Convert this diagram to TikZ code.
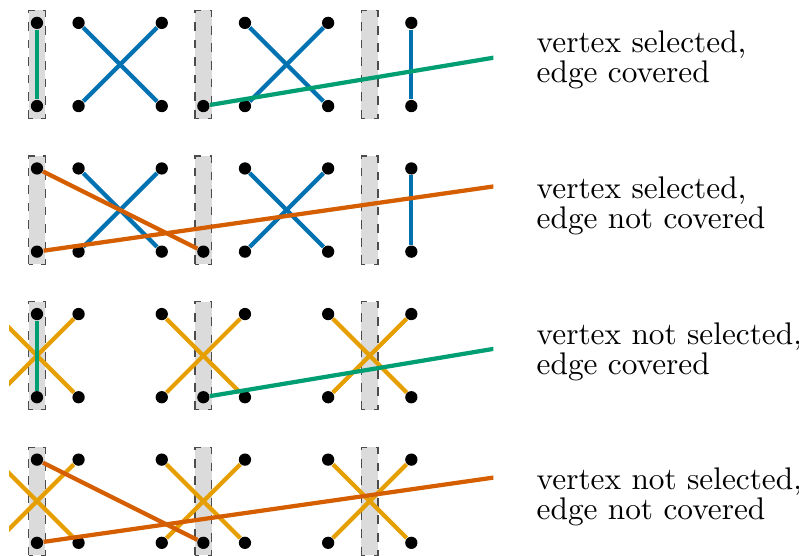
\documentclass[tikz,border=0pt]{standalone}
\usepackage{amsmath}
\usepackage{amssymb}
\usepackage{tikz}

\definecolor{cblue}{HTML}{0072B2}
\definecolor{cgreen}{HTML}{009E73}
\definecolor{corange}{HTML}{D55E00}
\definecolor{cyellow}{HTML}{E69F00}

\begin{document}
\begin{tikzpicture}[x=0.5cm, y=0.5cm,
    dot/.style={circle, fill=black, inner sep=0pt, minimum size=4.2pt},
    sel/.style={draw=black!70, dashed, fill=black!14, line width=0.4pt},
    edg/.style={line width=1.45pt},
    lbl/.style={anchor=west, align=left, inner sep=0pt, font=\fontsize{10.7pt}{10.3pt}\selectfont}]
        \useasboundingbox (-0.889,-0.3125) rectangle (18.32,13.05);

        % selected columns
        \draw[sel] (-0.2,10.2) rectangle (0.2,12.8);
        \draw[sel] (3.8,10.2) rectangle (4.2,12.8);
        \draw[sel] (7.8,10.2) rectangle (8.2,12.8);
        \draw[sel] (-0.2,6.7) rectangle (0.2,9.3);
        \draw[sel] (3.8,6.7) rectangle (4.2,9.3);
        \draw[sel] (7.8,6.7) rectangle (8.2,9.3);
        \draw[sel] (-0.2,3.2) rectangle (0.2,5.8);
        \draw[sel] (3.8,3.2) rectangle (4.2,5.8);
        \draw[sel] (7.8,3.2) rectangle (8.2,5.8);
        \draw[sel] (-0.2,-0.3) rectangle (0.2,2.3);
        \draw[sel] (3.8,-0.3) rectangle (4.2,2.3);
        \draw[sel] (7.8,-0.3) rectangle (8.2,2.3);

        % row a
        \node[dot] (a0t) at (0,12.5) {};
        \node[dot] (a0b) at (0,10.5) {};
        \node[dot] (a1t) at (1,12.5) {};
        \node[dot] (a1b) at (1,10.5) {};
        \node[dot] (a3t) at (3,12.5) {};
        \node[dot] (a3b) at (3,10.5) {};
        \node[dot] (a4b) at (4,10.5) {};
        \node[dot] (a5t) at (5,12.5) {};
        \node[dot] (a5b) at (5,10.5) {};
        \node[dot] (a7t) at (7,12.5) {};
        \node[dot] (a7b) at (7,10.5) {};
        \node[dot] (a9t) at (9,12.5) {};
        \node[dot] (a9b) at (9,10.5) {};
        \coordinate (a16t) at (16,12.5);

        % row b
        \node[dot] (b0t) at (0,9) {};
        \node[dot] (b0b) at (0,7) {};
        \node[dot] (b1t) at (1,9) {};
        \node[dot] (b1b) at (1,7) {};
        \node[dot] (b3t) at (3,9) {};
        \node[dot] (b3b) at (3,7) {};
        \node[dot] (b4b) at (4,7) {};
        \node[dot] (b5t) at (5,9) {};
        \node[dot] (b5b) at (5,7) {};
        \node[dot] (b7t) at (7,9) {};
        \node[dot] (b7b) at (7,7) {};
        \node[dot] (b9t) at (9,9) {};
        \node[dot] (b9b) at (9,7) {};
        \coordinate (b14t) at (14,9);

        % row c
        \node[dot] (c0t) at (0,5.5) {};
        \node[dot] (c0b) at (0,3.5) {};
        \node[dot] (c1t) at (1,5.5) {};
        \node[dot] (c1b) at (1,3.5) {};
        \node[dot] (c3t) at (3,5.5) {};
        \node[dot] (c3b) at (3,3.5) {};
        \node[dot] (c4b) at (4,3.5) {};
        \node[dot] (c5t) at (5,5.5) {};
        \node[dot] (c5b) at (5,3.5) {};
        \node[dot] (c7t) at (7,5.5) {};
        \node[dot] (c7b) at (7,3.5) {};
        \node[dot] (c9t) at (9,5.5) {};
        \node[dot] (c9b) at (9,3.5) {};
        \coordinate (cmt) at (-1,5.5);
        \coordinate (cmb) at (-1,3.5);
        \coordinate (c16t) at (16,5.5);

        % row d
        \node[dot] (d0t) at (0,2) {};
        \node[dot] (d0b) at (0,0) {};
        \node[dot] (d1t) at (1,2) {};
        \node[dot] (d1b) at (1,0) {};
        \node[dot] (d3t) at (3,2) {};
        \node[dot] (d3b) at (3,0) {};
        \node[dot] (d4b) at (4,0) {};
        \node[dot] (d5t) at (5,2) {};
        \node[dot] (d5b) at (5,0) {};
        \node[dot] (d7t) at (7,2) {};
        \node[dot] (d7b) at (7,0) {};
        \node[dot] (d9t) at (9,2) {};
        \node[dot] (d9b) at (9,0) {};
        \coordinate (dmt) at (-1,2);
        \coordinate (dmb) at (-1,0);
        \coordinate (d14t) at (14,2);

        \begin{scope}
        \clip (-0.67,-1) rectangle (10.97,14);

        \draw[edg, cblue] (a1t) -- (a3b);
        \draw[edg, cblue] (a1b) -- (a3t);
        \draw[edg, cblue] (a5t) -- (a7b);
        \draw[edg, cblue] (a5b) -- (a7t);
        \draw[edg, cblue] (a9t) -- (a9b);
        \draw[edg, cgreen] (a0t) -- (a0b);
        \draw[edg, cgreen] (a4b) -- (a16t);

        \draw[edg, cblue] (b1t) -- (b3b);
        \draw[edg, cblue] (b1b) -- (b3t);
        \draw[edg, cblue] (b5t) -- (b7b);
        \draw[edg, cblue] (b5b) -- (b7t);
        \draw[edg, cblue] (b9t) -- (b9b);
        \draw[edg, corange] (b0t) -- (b4b);
        \draw[edg, corange] (b0b) -- (b14t);

        \draw[edg, cyellow] (c1t) -- (cmb);
        \draw[edg, cyellow] (c1b) -- (cmt);
        \draw[edg, cyellow] (c3t) -- (c5b);
        \draw[edg, cyellow] (c3b) -- (c5t);
        \draw[edg, cyellow] (c7t) -- (c9b);
        \draw[edg, cyellow] (c7b) -- (c9t);
        \draw[edg, cgreen] (c0t) -- (c0b);
        \draw[edg, cgreen] (c4b) -- (c16t);

        \draw[edg, cyellow] (d1t) -- (dmb);
        \draw[edg, cyellow] (d1b) -- (dmt);
        \draw[edg, cyellow] (d3t) -- (d5b);
        \draw[edg, cyellow] (d3b) -- (d5t);
        \draw[edg, cyellow] (d7t) -- (d9b);
        \draw[edg, cyellow] (d7b) -- (d9t);
        \draw[edg, corange] (d0t) -- (d4b);
        \draw[edg, corange] (d0b) -- (d14t);
        \end{scope}

        \node[lbl] (la) at (12,11.6) {vertex selected,\\edge covered};
        \node[lbl] (lb) at (12,8.1) {vertex selected,\\edge not covered};
        \node[lbl] (lc) at (12,4.6) {vertex not selected,\\edge covered};
        \node[lbl] (ld) at (12,1.1) {vertex not selected,\\edge not covered};
      \end{tikzpicture}
\end{document}
